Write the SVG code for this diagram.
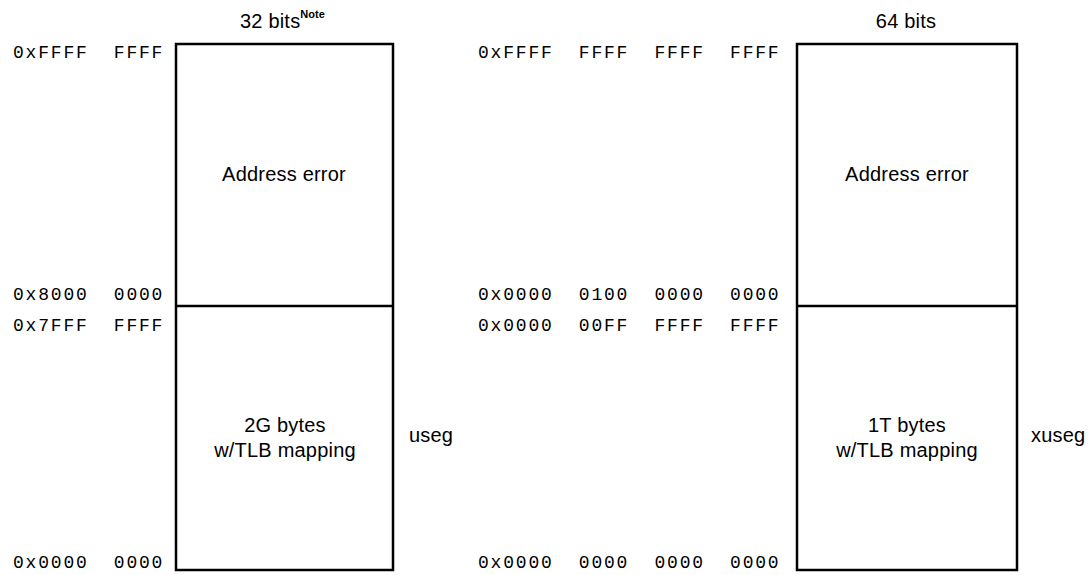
<svg xmlns="http://www.w3.org/2000/svg" width="1088" height="575" viewBox="0 0 1088 575">
<style>
.box{fill:#fff;stroke:#000;stroke-width:2.5}
.div{stroke:#000;stroke-width:2.5}
.addr{font-family:"Liberation Mono",monospace;font-size:18px;letter-spacing:1.8px;fill:#000;white-space:pre}
.lbl{font-family:"Liberation Sans",Arial,sans-serif;font-size:20px;letter-spacing:0.2px;fill:#000}
.mid{text-anchor:middle}
.note{font-family:"Liberation Sans",Arial,sans-serif;font-size:11px;font-weight:bold;letter-spacing:0}
</style>
<rect width="1088" height="575" fill="#fff"/>
<g id="map32">
  <text class="lbl" x="240" y="28">32 bits<tspan class="note" dy="-10.5">Note</tspan></text>
  <rect class="box" x="176" y="44" width="217" height="526"/>
  <line class="div" x1="176" y1="306" x2="393" y2="306"/>
  <text class="lbl mid" x="284" y="181">Address error</text>
  <text class="lbl mid" x="285" y="432">2G bytes</text>
  <text class="lbl mid" x="285" y="457">w/TLB mapping</text>
  <text class="lbl" x="409" y="442">useg</text>
  <text class="addr" x="13" y="58" xml:space="preserve">0xFFFF  FFFF</text>
  <text class="addr" x="13" y="300" xml:space="preserve">0x8000  0000</text>
  <text class="addr" x="13" y="331" xml:space="preserve">0x7FFF  FFFF</text>
  <text class="addr" x="13" y="568" xml:space="preserve">0x0000  0000</text>
</g>
<g id="map64">
  <text class="lbl mid" x="906" y="28">64 bits</text>
  <rect class="box" x="797" y="44" width="220" height="526"/>
  <line class="div" x1="797" y1="306" x2="1017" y2="306"/>
  <text class="lbl mid" x="907" y="181">Address error</text>
  <text class="lbl mid" x="907" y="432">1T bytes</text>
  <text class="lbl mid" x="907" y="457">w/TLB mapping</text>
  <text class="lbl" x="1031" y="442">xuseg</text>
  <text class="addr" x="478" y="58" xml:space="preserve">0xFFFF  FFFF  FFFF  FFFF</text>
  <text class="addr" x="478" y="300" xml:space="preserve">0x0000  0100  0000  0000</text>
  <text class="addr" x="478" y="331" xml:space="preserve">0x0000  00FF  FFFF  FFFF</text>
  <text class="addr" x="478" y="568" xml:space="preserve">0x0000  0000  0000  0000</text>
</g>
<g id="connectors"></g>
</svg>
